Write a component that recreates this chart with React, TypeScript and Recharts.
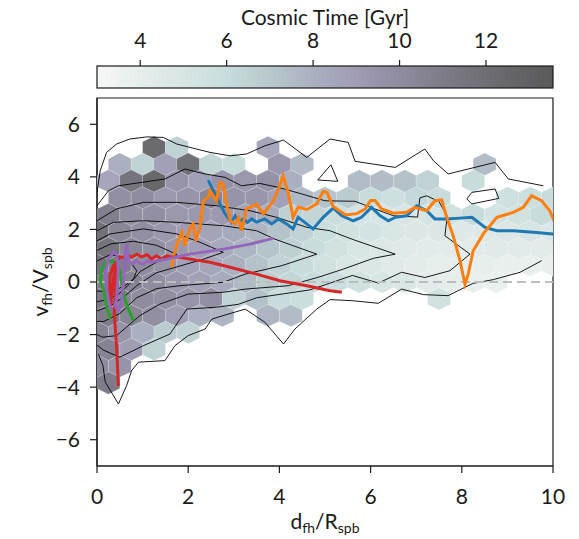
import React from 'react';
import {
  ComposedChart,
  Scatter,
  XAxis,
  YAxis,
  ReferenceArea,
} from 'recharts';

const FONT = 'Lato, "DejaVu Sans", sans-serif';
const INK = '#1a1a1a';

// chart box
const W = 579;
const H = 539;
const MARGIN = { top: 98, right: 26, bottom: 0, left: 0 };
const Y_AXIS_W = 97;
const X_AXIS_H = 73;
const PLOT_W = W - MARGIN.left - MARGIN.right - Y_AXIS_W;
const PLOT_H = H - MARGIN.top - MARGIN.bottom - X_AXIS_H;

const X_DOMAIN: [number, number] = [0, 10];
const Y_DOMAIN: [number, number] = [-7, 7];
const X_TICKS = [0, 2, 4, 6, 8, 10];
const Y_TICKS = [-6, -4, -2, 0, 2, 4, 6];

// hexbin lattice spacing (data units)
const HEX_DX = 0.5;
const HEX_DY = 0.64;

// colour bar: cosmic time in Gyr
const CBAR_DOMAIN: [number, number] = [3.0, 13.55];
const CBAR_TICKS = [4, 6, 8, 10, 12];
const CMAP_T = [3.0, 4.0, 6.0, 7.0, 8.0, 9.0, 10.0, 11.0, 12.0, 13.55];
const CMAP_C = ['#f5f7f5', '#e6eeec', '#c8dcdc', '#b8c8cc', '#aab0c0', '#a09cb4', '#8e8c9e', '#7e7c88', '#6e6e74', '#5a5a5a'];

// hexbin rows: [x, mean cosmic time]
const ROW_LEVELS = [5.12, 4.48, 3.84, 3.2, 2.56, 1.92, 1.28, 0.64, 0, -0.64, -1.28, -1.92, -2.56, -3.2, -3.84];
const ROW_P8 = [[1.25, 12.3], [1.75, 6.5], [3.75, 8.5]];
const ROW_P7 = [[0.5, 8.0], [1.0, 6.5], [1.5, 8.8], [2.0, 11.8], [2.5, 6.3], [3.0, 6.0], [4.0, 9.3], [4.5, 7.5], [8.5, 7.5]];
const ROW_P6 = [[0.25, 8.5], [0.75, 11.5], [1.25, 12.5], [1.75, 9.5], [2.25, 8.8], [2.75, 9.5], [3.25, 9.3], [3.75, 9.6], [4.25, 8.0], [5.75, 7.5], [6.25, 7.5], [6.75, 7.3], [7.25, 6.5], [8.25, 6.0]];
const ROW_P5 = [[0.5, 9.8], [1.0, 10.0], [1.5, 9.3], [2.0, 9.5], [2.5, 10.3], [3.0, 9.5], [3.5, 9.4], [4.0, 8.8], [4.5, 7.6], [5.0, 7.2], [5.5, 6.8], [6.0, 6.0], [6.5, 5.7], [7.0, 6.2], [7.5, 6.0], [9.0, 5.6], [9.5, 5.8], [10.0, 6.0]];
const ROW_P4 = [[0.25, 10.8], [0.75, 9.8], [1.25, 9.8], [1.75, 9.3], [2.25, 9.3], [2.75, 9.2], [3.25, 8.6], [3.75, 8.1], [4.25, 6.6], [4.75, 6.3], [5.25, 5.8], [5.75, 5.3], [6.25, 5.0], [6.75, 5.0], [7.25, 5.1], [7.75, 5.5], [8.25, 6.0], [8.75, 5.3], [9.25, 5.5], [9.75, 6.0]];
const ROW_P3 = [[0, 11.8], [0.5, 10.3], [1.0, 9.8], [1.5, 9.3], [2.0, 9.0], [2.5, 8.6], [3.0, 8.3], [3.5, 7.8], [4.0, 7.2], [4.5, 6.5], [5.0, 5.8], [5.5, 5.5], [6.0, 5.3], [6.5, 5.0], [7.0, 4.8], [7.5, 4.8], [8.0, 4.6], [8.5, 4.6], [9.0, 4.8], [9.5, 5.0], [10.0, 4.8]];
const ROW_P2 = [[0.25, 11.5], [0.75, 10.3], [1.25, 9.8], [1.75, 9.3], [2.25, 8.8], [2.75, 8.3], [3.25, 7.8], [3.75, 7.2], [4.25, 6.6], [4.75, 6.0], [5.25, 5.5], [5.75, 5.0], [6.25, 4.8], [6.75, 4.5], [7.25, 4.3], [7.75, 4.2], [8.25, 4.3], [8.75, 4.5], [9.25, 4.4], [9.75, 4.3]];
const ROW_P1 = [[0, 11.5], [0.5, 10.8], [1.0, 10.0], [1.5, 9.5], [2.0, 8.8], [2.5, 8.5], [3.0, 8.0], [3.5, 7.3], [4.0, 6.5], [4.5, 6.0], [5.0, 5.5], [5.5, 5.0], [6.0, 4.8], [6.5, 4.5], [7.0, 4.2], [7.5, 4.0], [8.0, 4.0], [8.5, 4.0], [9.0, 3.9], [9.5, 3.9], [10.0, 3.9]];
const ROW_Z0 = [[0.25, 11.0], [0.75, 10.5], [1.25, 10.0], [1.75, 9.3], [2.25, 8.8], [2.75, 8.3], [3.25, 7.6], [3.75, 6.8], [4.25, 6.3], [4.75, 6.0], [5.25, 5.8], [5.75, 5.5], [6.25, 5.0], [6.75, 4.8], [7.25, 4.3], [7.75, 4.0], [8.25, 3.8], [8.75, 3.8]];
const ROW_M1 = [[0, 11.0], [0.5, 10.5], [1.0, 10.0], [1.5, 9.8], [2.0, 9.5], [2.5, 9.8], [3.0, 6.5], [3.5, 7.3], [4.0, 6.0], [4.5, 5.8], [7.5, 5.5]];
const ROW_M2 = [[0.25, 11.0], [0.75, 10.3], [1.25, 9.8], [1.75, 9.0], [2.25, 8.0], [2.75, 7.8], [3.75, 7.8], [4.25, 7.5]];
const ROW_M3 = [[0, 10.5], [0.5, 9.5], [1.0, 8.0], [1.5, 6.8], [2.0, 6.5]];
const ROW_M4 = [[0.25, 10.5], [0.75, 9.0], [1.25, 6.5]];
const ROW_M5 = [[0, 10.0], [0.5, 9.5]];
const ROW_M6 = [[0.25, 11.0]];
const HEX_ROWS = [ROW_P8, ROW_P7, ROW_P6, ROW_P5, ROW_P4, ROW_P3, ROW_P2, ROW_P1, ROW_Z0, ROW_M1, ROW_M2, ROW_M3, ROW_M4, ROW_M5, ROW_M6];

// density contours (black)
const C1_TOP = [[0, 3.42], [0.07, 4.23], [0.21, 4.93], [0.43, 5.25], [0.72, 5.44], [1.09, 5.52], [1.45, 5.5], [1.75, 5.25], [2.04, 5.12], [2.48, 4.93], [2.92, 4.8], [3.28, 4.87], [3.68, 5.18], [4.09, 5.4], [4.6, 4.74], [5.11, 5.44], [5.51, 5.31], [5.66, 4.59], [6.54, 4.36], [7.19, 5.06], [7.38, 4.61], [7.7, 4.11], [8.73, 4.55], [9.02, 3.92], [9.79, 3.66]];
const C1_BOT = [[0.03, -2.74], [0.13, -3.18], [0.18, -3.8], [0.47, -4.64], [0.65, -3.94], [0.76, -3.37], [0.91, -3.05], [1.49, -2.99], [1.71, -2.42], [2.0, -2.04], [2.37, -1.79], [2.52, -1.41], [2.88, -1.22], [3.25, -1.03], [3.68, -1.53], [4.09, -2.36], [4.34, -1.79], [4.82, -1.03], [5.11, -0.67], [5.59, -0.71], [6.17, -0.81], [6.68, -0.27], [7.16, -0.48], [7.7, -0.52], [8.07, -0.2], [8.25, -0.05], [8.69, 0.09], [9.28, 0.37], [9.75, 0.81]];
const C1_TRI = [[5.13, 4.46], [4.84, 3.88], [5.28, 3.83], [5.13, 4.46]];
const C1_BOX = [[8.11, 3.16], [8.22, 3.41], [8.73, 3.54], [8.81, 3.18], [8.22, 2.97], [8.11, 3.16]];
const C2 = [[0, 2.9], [0.25, 3.47], [0.47, 3.66], [0.98, 3.79], [1.49, 3.92], [1.93, 4.3], [2.37, 4.11], [2.81, 3.98], [3.17, 3.66], [3.57, 3.75], [3.98, 3.6], [4.49, 3.35], [5.0, 3.09], [5.66, 3.07], [6.0, 2.84], [6.5, 2.52], [7.03, 2.47], [7.08, 3.2], [7.23, 3.28], [7.5, 3.06], [7.68, 2.5], [7.63, 1.76], [8.18, 1.06], [7.74, 0.43], [7.19, 0.17], [6.68, 0.37], [6.17, -0.04], [5.6, 0.25], [5.1, -0.05], [4.67, -0.3], [4.09, -0.45], [3.5, -0.6], [3.1, -0.85], [2.62, -0.96], [1.97, -1.03], [1.6, -1.98], [1.02, -2.42], [0.5, -2.86], [0.15, -2.6], [0, -2.4]];
const C3 = [[0, 2.33], [0.43, 2.78], [1.02, 3.03], [1.75, 3.03], [2.62, 2.9], [3.36, 2.71], [3.94, 2.46], [4.6, 2.08], [5.11, 1.95], [5.59, 1.63], [6.54, 1.06], [6.06, 0.9], [5.4, 0.49], [4.89, 0.2], [4.2, -0.14], [3.25, -0.27], [2.77, -0.39], [2.0, -0.46], [1.38, -0.84], [0.94, -1.28], [0.43, -2.04], [0.12, -2.1], [0, -2.0]];
const C4 = [[0, 1.95], [0.36, 2.27], [1.02, 2.33], [1.75, 2.27], [2.77, 2.14], [3.5, 1.95], [3.9, 1.63], [4.82, 1.06], [4.05, 0.62], [3.25, 0.3], [2.77, -0.01], [1.82, -0.14], [1.31, -0.25], [0.87, -0.6], [0.5, -1.2], [0.15, -1.5], [0, -1.5]];
const C5 = [[0, 1.57], [0.29, 1.83], [1.02, 2.02], [1.75, 1.83], [2.26, 1.51], [2.77, 1.13], [2.3, 0.85], [1.8, 0.6], [1.3, 0.35], [0.9, -0.1], [0.6, -0.55], [0.3, -0.9], [0, -1.1]];
const C6 = [[0, 1.2], [0.3, 1.45], [0.8, 1.55], [1.3, 1.4], [1.75, 1.05], [1.3, 0.75], [0.95, 0.4], [0.7, -0.1], [0.45, -0.5], [0.15, -0.7], [0, -0.75]];
const C7 = [[0, 0.8], [0.3, 1.05], [0.69, 0.87], [0.87, 0.43], [0.8, 0.11], [0.6, -0.15], [0.4, -0.3], [0.15, -0.35], [0, -0.35]];
const CONTOURS = [C1_TOP, C1_BOT, C1_TRI, C1_BOX, C2, C3, C4, C5, C6, C7];

// zero-velocity guide
const ZERO_LINE = [[0, 0], [10, 0]];

// host trajectories
const BLUE = [[2.44, 3.88], [2.55, 3.47], [2.66, 3.09], [2.81, 2.59], [2.95, 2.27], [3.03, 2.52], [3.12, 2.3], [3.21, 2.4], [3.3, 2.27], [3.39, 2.4], [3.5, 2.28], [3.68, 2.4], [3.83, 2.21], [3.98, 2.4], [4.16, 2.21], [4.3, 2.02], [4.41, 2.46], [4.6, 2.21], [4.74, 2.02], [4.96, 2.46], [5.18, 2.81], [5.37, 2.52], [5.62, 2.33], [5.8, 2.46], [6.02, 2.84], [6.21, 2.52], [6.39, 2.33], [6.54, 2.46], [6.79, 2.52], [7.01, 2.9], [7.23, 2.71], [7.41, 2.4], [7.67, 2.4], [7.96, 2.43], [8.22, 2.46], [8.51, 2.08], [8.77, 1.95], [9.13, 1.95], [9.57, 1.89], [10.0, 1.83]];
const ORANGE = [[1.64, 0.56], [1.67, 0.94], [1.78, 1.57], [1.86, 1.89], [1.93, 1.38], [2.04, 2.08], [2.11, 2.21], [2.17, 1.57], [2.26, 2.08], [2.33, 3.09], [2.44, 3.22], [2.48, 3.47], [2.62, 3.09], [2.7, 3.79], [2.77, 3.73], [2.84, 2.97], [2.92, 2.33], [3.03, 2.21], [3.1, 2.46], [3.17, 1.95], [3.28, 2.78], [3.5, 2.95], [3.65, 2.59], [3.87, 3.09], [3.98, 3.54], [4.08, 4.04], [4.2, 3.35], [4.3, 2.46], [4.41, 2.84], [4.6, 2.76], [4.82, 2.97], [4.96, 3.45], [5.04, 3.41], [5.18, 2.87], [5.45, 2.55], [5.7, 2.6], [5.88, 2.78], [6.0, 3.1], [6.1, 3.1], [6.24, 2.78], [6.5, 2.62], [6.79, 2.65], [6.97, 2.84], [7.23, 2.71], [7.41, 3.09], [7.56, 3.12], [7.67, 2.46], [7.82, 1.7], [7.96, 0.81], [8.07, -0.08], [8.14, 0.3], [8.25, 1.19], [8.47, 1.83], [8.77, 2.46], [9.13, 2.65], [9.35, 2.84], [9.53, 3.28], [9.75, 3.09], [9.93, 2.71], [10.04, 2.27]];
const GREEN = [[0.29, -1.41], [0.21, -0.9], [0.14, -0.27], [0.07, 0.05], [0.1, 0.49], [0.2, 0.75], [0.35, 0.8], [0.43, 0.62], [0.5, 0.43], [0.54, -0.01], [0.61, -0.65], [0.69, -1.03], [0.8, -1.47]];
const RED = [[0.47, -3.95], [0.43, -2.5], [0.38, -1.2], [0.42, 0.2], [0.45, 0.75], [0.36, 0.62], [0.29, 0.3], [0.27, -0.6], [0.3, -0.9], [0.34, -0.2], [0.4, 0.7], [0.5, 0.95], [0.58, 0.94], [0.65, 1.06], [0.76, 0.94], [0.87, 1.06], [0.98, 0.96], [1.1, 1.04], [1.2, 0.87], [1.3, 1.0], [1.42, 0.87], [1.53, 1.0], [1.64, 0.94], [1.75, 0.96], [2.04, 0.87], [2.48, 0.75], [2.92, 0.56], [3.5, 0.3], [4.01, 0.05], [4.6, -0.14], [5.11, -0.33], [5.37, -0.39]];
const PURPLE = [[0.29, -1.03], [0.21, -0.27], [0.18, 0.37], [0.25, 0.87], [0.36, 1.13], [0.43, 1.06], [0.47, 0.49], [0.43, -0.65], [0.39, -0.9], [0.47, -1.09], [0.54, -0.77], [0.58, -0.01], [0.61, 0.62], [0.63, 1.3], [0.66, 1.38], [0.69, 0.81], [0.76, 0.68], [0.87, 0.81], [0.95, 0.7], [1.02, 0.68], [1.12, 0.81], [1.2, 0.75], [1.31, 0.81], [1.53, 0.87], [2.04, 1.06], [2.77, 1.25], [3.36, 1.44], [3.87, 1.67]];

const TRACKS = [
  { name: 'blue', pts: BLUE, color: '#1f77b4' },
  { name: 'orange', pts: ORANGE, color: '#ff7f0e' },
  { name: 'green', pts: GREEN, color: '#2ca02c' },
  { name: 'red', pts: RED, color: '#d62728' },
  { name: 'purple', pts: PURPLE, color: '#9467bd' },
];

const toPts = (arr: number[][]) => arr.map(([x, y]) => ({ x, y }));

const hexData = HEX_ROWS.flatMap((row, i) =>
  row.map(([x, t]) => ({ x, y: ROW_LEVELS[i], t }))
);

function hexToRgb(h: string) {
  const n = parseInt(h.slice(1), 16);
  return [(n >> 16) & 255, (n >> 8) & 255, n & 255];
}

function cmap(t: number) {
  const v = Math.max(CMAP_T[0], Math.min(CMAP_T[CMAP_T.length - 1], t));
  let i = 0;
  while (i < CMAP_T.length - 2 && v > CMAP_T[i + 1]) i++;
  const f = (v - CMAP_T[i]) / (CMAP_T[i + 1] - CMAP_T[i]);
  const a = hexToRgb(CMAP_C[i]);
  const b = hexToRgb(CMAP_C[i + 1]);
  const c = a.map((ch, k) => Math.round(ch + (b[k] - ch) * f));
  return `rgb(${c[0]},${c[1]},${c[2]})`;
}

// pixel size of one hexagon, from the axis scales
const HEX_HW = (HEX_DX / 2) * (PLOT_W / (X_DOMAIN[1] - X_DOMAIN[0]));
const HEX_R = ((2 * HEX_DY) / 3) * (PLOT_H / (Y_DOMAIN[1] - Y_DOMAIN[0]));

function HexCell(props: any) {
  const { cx, cy, payload } = props;
  if (cx == null || cy == null) return <g />;
  const fill = cmap(payload.t);
  const p = [
    [cx, cy - HEX_R],
    [cx + HEX_HW, cy - HEX_R / 2],
    [cx + HEX_HW, cy + HEX_R / 2],
    [cx, cy + HEX_R],
    [cx - HEX_HW, cy + HEX_R / 2],
    [cx - HEX_HW, cy - HEX_R / 2],
  ]
    .map((q) => q.join(','))
    .join(' ');
  return <polygon points={p} fill={fill} stroke="#ffffff" strokeOpacity={0.25} strokeWidth={0.6} />;
}

const NoDot = () => <g />;

const fmt = (v: number) => (v < 0 ? `\u2212${-v}` : `${v}`);

function XTitle(props: any) {
  const vb = props.viewBox || {};
  const x = vb.x + vb.width / 2;
  const y = vb.y + 63;
  return (
    <text x={x} y={y} textAnchor="middle" fontFamily={FONT} fontSize={21} fill={INK}>
      <tspan>d</tspan>
      <tspan fontSize={14} dy={4}>fh</tspan>
      <tspan dy={-4}>/R</tspan>
      <tspan fontSize={14} dy={4}>spb</tspan>
    </text>
  );
}

function YTitle(props: any) {
  const vb = props.viewBox || {};
  const x = vb.x + 48;
  const y = vb.y + vb.height / 2;
  return (
    <text x={x} y={y} textAnchor="middle" fontFamily={FONT} fontSize={21} fill={INK} transform={`rotate(-90, ${x}, ${y})`}>
      <tspan>v</tspan>
      <tspan fontSize={14} dy={4}>fh</tspan>
      <tspan dy={-4}>/V</tspan>
      <tspan fontSize={14} dy={4}>spb</tspan>
    </text>
  );
}

function ColorBar() {
  const x0 = MARGIN.left + Y_AXIS_W;
  const x1 = x0 + PLOT_W;
  const top = 66;
  const bot = 88;
  const sx = (t: number) => x0 + ((t - CBAR_DOMAIN[0]) / (CBAR_DOMAIN[1] - CBAR_DOMAIN[0])) * (x1 - x0);
  return (
    <svg width={W} height={MARGIN.top} style={{ position: 'absolute', left: 0, top: 0 }}>
      <defs>
        <linearGradient id="cbar" x1="0" y1="0" x2="1" y2="0">
          {CMAP_T.map((t, i) => (
            <stop key={t} offset={(t - CBAR_DOMAIN[0]) / (CBAR_DOMAIN[1] - CBAR_DOMAIN[0])} stopColor={CMAP_C[i]} />
          ))}
        </linearGradient>
      </defs>
      <text x={(x0 + x1) / 2} y={25} textAnchor="middle" fontFamily={FONT} fontSize={21} fill={INK}>
        Cosmic Time [Gyr]
      </text>
      <rect x={x0} y={top} width={x1 - x0} height={bot - top} fill="url(#cbar)" stroke={INK} strokeWidth={1.2} />
      {CBAR_TICKS.map((t) => (
        <g key={t}>
          <line x1={sx(t)} x2={sx(t)} y1={top} y2={top - 6} stroke={INK} strokeWidth={1.2} />
          <text x={sx(t)} y={48} textAnchor="middle" fontFamily={FONT} fontSize={21} fill={INK}>
            {t}
          </text>
        </g>
      ))}
    </svg>
  );
}

export default function App() {
  const tick = { fontSize: 21, fontFamily: FONT, fill: INK };
  return (
    <div style={{ position: 'absolute', left: 0, top: 0, width: W, height: H, background: '#fff' }}>
      <ComposedChart width={W} height={H} margin={MARGIN}>
        <XAxis
          type="number"
          dataKey="x"
          domain={X_DOMAIN}
          ticks={X_TICKS}
          interval={0}
          allowDataOverflow
          height={X_AXIS_H}
          tickSize={7}
          tickMargin={16}
          tick={tick}
          axisLine={{ stroke: INK, strokeWidth: 1.2 }}
          tickLine={{ stroke: INK, strokeWidth: 1.2 }}
          label={(p: any) => <XTitle {...p} />}
        />
        <YAxis
          type="number"
          dataKey="y"
          domain={Y_DOMAIN}
          ticks={Y_TICKS}
          interval={0}
          allowDataOverflow
          width={Y_AXIS_W}
          tickSize={7}
          tickMargin={10}
          tick={tick}
          tickFormatter={fmt}
          axisLine={{ stroke: INK, strokeWidth: 1.2 }}
          tickLine={{ stroke: INK, strokeWidth: 1.2 }}
          label={(p: any) => <YTitle {...p} />}
        />
        <Scatter data={hexData} shape={HexCell} isAnimationActive={false} />
        {CONTOURS.map((c, i) => (
          <Scatter
            key={`c${i}`}
            data={toPts(c)}
            shape={NoDot}
            line={{ stroke: '#000', strokeWidth: 0.9 }}
            lineType="joint"
            isAnimationActive={false}
          />
        ))}
        <Scatter
          data={toPts(ZERO_LINE)}
          shape={NoDot}
          line={{ stroke: '#bdbdbd', strokeWidth: 2.2, strokeDasharray: '9 5' }}
          lineType="joint"
          isAnimationActive={false}
        />
        {TRACKS.map((tr) => (
          <Scatter
            key={tr.name}
            data={toPts(tr.pts)}
            shape={NoDot}
            line={{ stroke: tr.color, strokeWidth: 3 }}
            lineType="joint"
            isAnimationActive={false}
          />
        ))}
        <ReferenceArea x1={0} x2={10} y1={-7} y2={7} fill="none" stroke={INK} strokeWidth={1.2} />
      </ComposedChart>
      <ColorBar />
    </div>
  );
}
